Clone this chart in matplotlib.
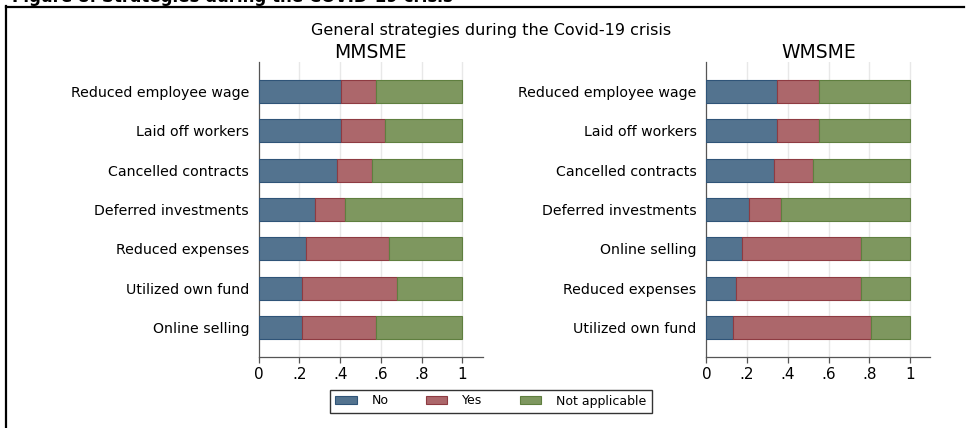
import numpy as np
import matplotlib.pyplot as plt
from matplotlib.patches import Patch

plt.rcParams['font.family'] = ['DejaVu Sans']

# shares (No / Yes / Not applicable)
mm_labels = ['Reduced employee wage', 'Laid off workers', 'Cancelled contracts',
             'Deferred investments', 'Reduced expenses', 'Utilized own fund',
             'Online selling']
mm_no = [0.406, 0.406, 0.384, 0.277, 0.233, 0.213, 0.213]
mm_yes = [0.171, 0.212, 0.170, 0.147, 0.406, 0.467, 0.362]

wm_labels = ['Reduced employee wage', 'Laid off workers', 'Cancelled contracts',
             'Deferred investments', 'Online selling', 'Reduced expenses',
             'Utilized own fund']
wm_no = [0.349, 0.348, 0.333, 0.207, 0.174, 0.148, 0.130]
wm_yes = [0.202, 0.203, 0.193, 0.160, 0.585, 0.611, 0.678]

legend_labels = ['No', 'Yes', 'Not applicable']
xticks = [0, 0.2, 0.4, 0.6, 0.8, 1]
xtick_labels = ['0', '.2', '.4', '.6', '.8', '1']

fills = ['#53738f', '#ac676b', '#7e975f']
edges = ['#2f5478', '#8e3b42', '#5f7f3f']
axcol = '#555555'


def panel(ax, labels, no, yes, title):
    no = np.array(no)
    yes = np.array(yes)
    na = 1 - no - yes
    y = np.arange(len(labels))
    left = np.zeros(len(labels))
    for vals, fc, ec in zip([no, yes, na], fills, edges):
        ax.barh(y, vals, left=left, height=0.58, color=fc, edgecolor=ec,
                linewidth=0.8, zorder=3)
        left = left + vals
    ax.set_xlim(0, 1.1)
    ax.set_ylim(len(labels) - 0.25, -0.75)
    ax.set_yticks(y)
    ax.set_yticklabels(labels, fontsize=10.2)
    ax.set_xticks(xticks)
    ax.set_xticklabels(xtick_labels, fontsize=11)
    ax.tick_params(axis='y', length=0, pad=7)
    ax.tick_params(axis='x', length=4, width=0.9, color=axcol, pad=3)
    for x in xticks[1:]:
        ax.axvline(x, color='#e8e8e8', lw=1, zorder=1)
    for s in ['top', 'right']:
        ax.spines[s].set_visible(False)
    for s in ['left', 'bottom']:
        ax.spines[s].set_color(axcol)
        ax.spines[s].set_linewidth(0.9)
    ax.set_title(title, fontsize=13.5, pad=2)


fig = plt.figure(figsize=(9.68, 4.28), dpi=100)
ax1 = fig.add_axes([0.2673, 0.1659, 0.2314, 0.6893])
ax2 = fig.add_axes([0.7297, 0.1659, 0.2314, 0.6893])
panel(ax1, mm_labels, mm_no, mm_yes, 'MMSME')
panel(ax2, wm_labels, wm_no, wm_yes, 'WMSME')

fig.text(0.507, 1 - 30 / 428, 'General strategies during the Covid-19 crisis',
         ha='center', va='center', fontsize=11.5)

handles = [Patch(facecolor=fc, edgecolor=ec, linewidth=0.8) for fc, ec in zip(fills, edges)]
leg = fig.legend(handles, legend_labels, ncol=3, loc='center',
                 bbox_to_anchor=(491 / 968, 1 - 401 / 428), fontsize=9,
                 frameon=True, fancybox=False, edgecolor='black',
                 handlelength=1.7, handleheight=0.65, handletextpad=1.2,
                 columnspacing=3.0, borderpad=0.4)
leg.get_frame().set_linewidth(1.0)

# page frame and clipped caption from the document the chart sits in
fig.add_artist(plt.Line2D([5.5 / 968, 964 / 968], [1 - 6.5 / 428, 1 - 6.5 / 428],
                          color='black', lw=1.6, transform=fig.transFigure))
fig.add_artist(plt.Line2D([6 / 968, 6 / 968], [0, 1 - 6 / 428],
                          color='black', lw=1.6, transform=fig.transFigure))
fig.text(12 / 968, 1 - 1.5 / 428, 'Figure 8: Strategies during the COVID-19 crisis',
         ha='left', va='baseline', fontsize=12, fontweight='bold')

fig.savefig('out.png', dpi=100)
